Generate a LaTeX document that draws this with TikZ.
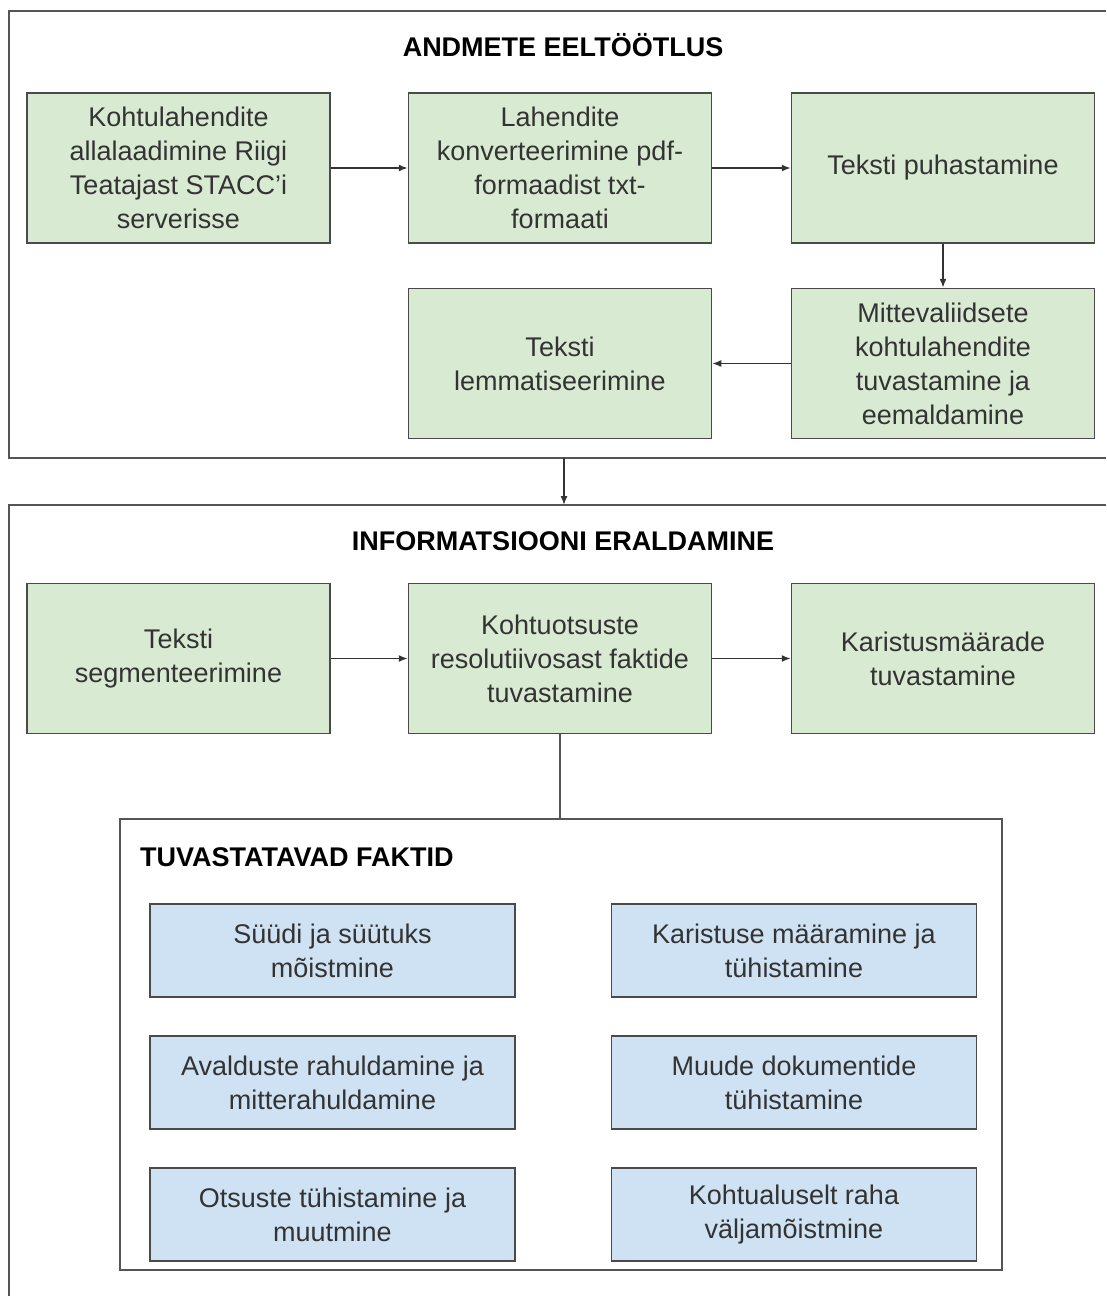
\documentclass[tikz,border=0pt]{standalone}
\usepackage{fontspec}
\setmainfont{Liberation Sans}
\usetikzlibrary{arrows.meta}
\definecolor{gfill}{HTML}{D9EAD3}
\definecolor{bfill}{HTML}{CFE2F3}
\definecolor{bord}{HTML}{4A4A4A}
\definecolor{frm}{HTML}{555555}
\definecolor{txt}{HTML}{333333}
\tikzset{
  boxbase/.style={draw=bord, line width=1.5pt, align=center, text=txt,
    font=\fontsize{27}{34}\selectfont, inner sep=0pt},
  gbox/.style={boxbase, fill=gfill, minimum width=303pt, minimum height=150pt},
  bbox/.style={boxbase, fill=bfill, minimum width=365pt, minimum height=93pt},
  framebox/.style={draw=frm, line width=2pt},
  arr/.style={draw=txt, line width=1.5pt, -{Latex[length=9pt,width=7pt]}},
  plainline/.style={draw=frm, line width=2pt},
  ttl/.style={font=\bfseries\fontsize{27}{34}\selectfont, text=black, inner sep=0pt}
}
\begin{document}
\begin{tikzpicture}[x=1pt,y=-1pt]
\useasboundingbox (0,0) rectangle (1106,1296);
% outer frames
\draw[framebox] (1106,11) -- (9,11) -- (9,458) -- (1106,458);
\draw[framebox] (1106,505) -- (9,505) -- (9,1296);
\coordinate (f1b) at (564,458);
\coordinate (f2t) at (564,505);
% titles
\node[ttl] (t1) at (563,45) {ANDMETE EELTÖÖTLUS};
\node[ttl] (t2) at (563,541) {INFORMATSIOONI ERALDAMINE};
% first section
\node[gbox] (b1) at (178.5,168) {Kohtulahendite\\allalaadimine Riigi\\Teatajast STACC’i\\serverisse};
\node[gbox] (b2) at (560,168) {Lahendite\\konverteerimine pdf-\\formaadist txt-\\formaati};
\node[gbox] (b3) at (943,168) {Teksti puhastamine};
\node[gbox] (b4) at (943,363.5) {Mittevaliidsete\\kohtulahendite\\tuvastamine ja\\eemaldamine};
\node[gbox] (b5) at (560,363.5) {Teksti\\lemmatiseerimine};
% second section
\node[gbox] (b6) at (178.5,658.5) {Teksti\\segmenteerimine};
\node[gbox] (b7) at (560,658.5) {Kohtuotsuste\\resolutiivosast faktide\\tuvastamine};
\node[gbox] (b8) at (943,658.5) {Karistusmäärade\\tuvastamine};
% inner frame
\node[draw=frm, line width=2pt, minimum width=882pt, minimum height=451pt, inner sep=0pt] (inner) at (561,1044.5) {};
\node[ttl, anchor=west] (t3) at (140,857) {TUVASTATAVAD FAKTID};
\node[bbox] (c1) at (332.5,950.5) {Süüdi ja süütuks\\mõistmine};
\node[bbox] (c2) at (794,950.5) {Karistuse määramine ja\\tühistamine};
\node[bbox] (c3) at (332.5,1082.5) {Avalduste rahuldamine ja\\mitterahuldamine};
\node[bbox] (c4) at (794,1082.5) {Muude dokumentide\\tühistamine};
\node[bbox] (c5) at (332.5,1214.5) {Otsuste tühistamine ja\\muutmine};
\node[bbox] (c6) at (794,1214.5) {Kohtualuselt raha\\väljamõistmine};
% connectors
\draw[arr] (b1.east) -- (b2.west);
\draw[arr] (b2.east) -- (b3.west);
\draw[arr] (b3.south) -- (b4.north);
\draw[arr] (b4.west) -- (b5.east);
\draw[arr] (f1b) -- (f2t);
\draw[arr] (b6.east) -- (b7.west);
\draw[arr] (b7.east) -- (b8.west);
\draw[plainline] (b7.south) -- (b7.south |- inner.north);
\end{tikzpicture}
\end{document}
